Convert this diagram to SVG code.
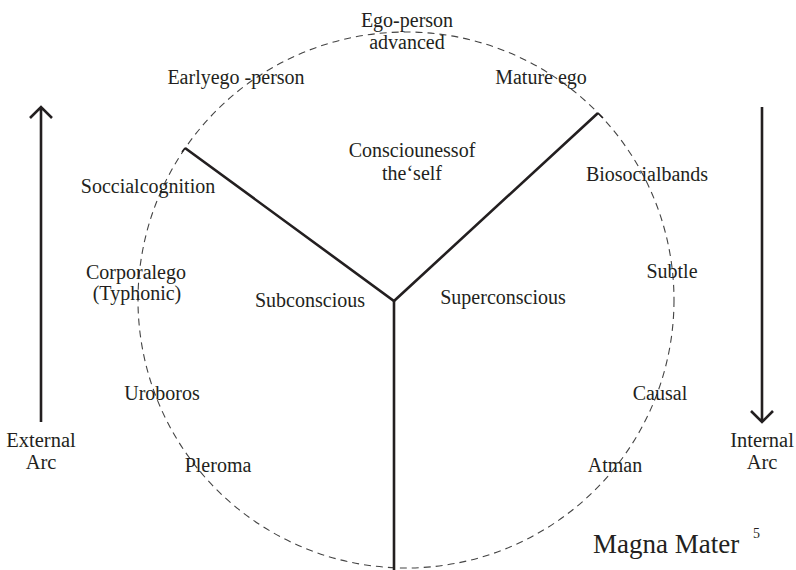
<svg xmlns="http://www.w3.org/2000/svg" width="796" height="570" viewBox="0 0 796 570">
<style>
text{font-family:"Liberation Serif","Times New Roman",serif;font-size:20px;fill:#231f20;text-anchor:middle}
.arc{font-size:20.5px}
.big{font-size:27px;text-anchor:start}
.sup{font-size:14px;text-anchor:start}
.edge{stroke:#231f20;stroke-width:2.6;fill:none;stroke-linecap:butt}
.ring{stroke:#444;stroke-width:1.1;fill:none;stroke-dasharray:7 5}
</style>
<rect width="796" height="570" fill="#fff"/>
<g id="circle"><circle class="ring" cx="406" cy="300" r="268"/></g>
<g id="connectors">
<path class="edge" d="M185,148 L394,301 L598,113"/>
<path class="edge" d="M394,301 L394,570"/>
<path stroke="#231f20" stroke-width="1.5" fill="none" d="M185,148 l-3,4 M598,113 l5,5"/>
<path class="edge" d="M41,422 V107 M30,118 L41,107 L52,118"/>
<path class="edge" d="M762,107 V422 M751,411 L762,422 L773,411"/>
</g>
<g id="n-ego-adv"><text x="407" y="27">Ego-person</text><text x="407" y="49">advanced</text></g>
<g id="n-early"><text x="236" y="84">Earlyego -person</text></g>
<g id="n-mature"><text x="541" y="84">Mature  ego</text></g>
<g id="n-self"><text x="412" y="157">Consciounessof</text><text x="412" y="180">the‘self</text></g>
<g id="n-social"><text x="148" y="193">Soccialcognition</text></g>
<g id="n-bio"><text x="647" y="181">Biosocialbands</text></g>
<g id="n-corp"><text x="136" y="279">Corporalego</text><text x="137" y="300">(Typhonic)</text></g>
<g id="n-sub"><text x="310" y="307">Subconscious</text></g>
<g id="n-super"><text x="503" y="304">Superconscious</text></g>
<g id="n-subtle"><text x="672" y="278">Subtle</text></g>
<g id="n-uro"><text x="162" y="400">Uroboros</text></g>
<g id="n-causal"><text x="660" y="400">Causal</text></g>
<g id="n-ext"><text class="arc" x="41" y="447">External</text><text class="arc" x="41" y="469">Arc</text></g>
<g id="n-int"><text class="arc" x="762" y="447">Internal</text><text class="arc" x="762" y="469">Arc</text></g>
<g id="n-pleroma"><text x="218" y="472">Pleroma</text></g>
<g id="n-atman"><text x="615" y="472">Atman</text></g>
<g id="n-magna"><text class="big" x="593" y="553">Magna Mater</text><text class="sup" x="753" y="538">5</text></g>
</svg>
